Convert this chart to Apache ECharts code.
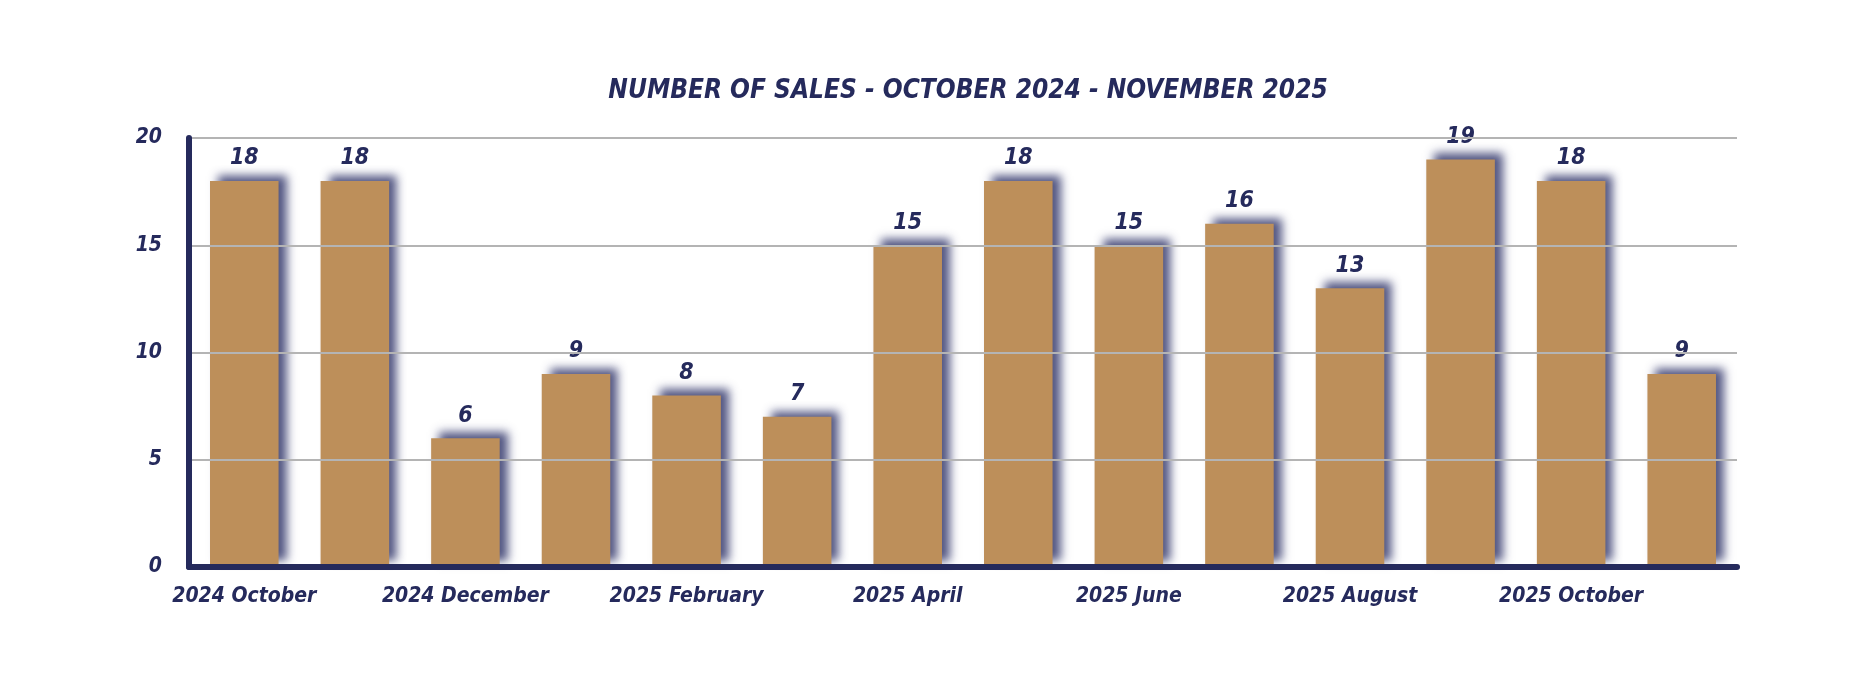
<!DOCTYPE html>
<html>
<head>
<meta charset="utf-8">
<script src="https://cdn.jsdelivr.net/npm/echarts@6/dist/echarts.min.js"></script>
<style>
html,body{margin:0;padding:0;background:#fff;}
#chart{width:1854px;height:690px;}
</style>
</head>
<body>
<div id="chart"></div>
<script>
const titleText = 'NUMBER OF SALES - OCTOBER 2024 - NOVEMBER 2025';
const categories = ['2024 October','2024 November','2024 December','2025 January','2025 February','2025 March','2025 April','2025 May','2025 June','2025 July','2025 August','2025 September','2025 October','2025 November'];
const sales = [18,18,6,9,8,7,15,18,15,16,13,19,18,9];
const yTicks = [0,5,10,15,20];

const navy = '#252a5c';
const font = '"DejaVu Sans Condensed","Liberation Sans Narrow","DejaVu Sans",sans-serif';

const chart = echarts.init(document.getElementById('chart'));
chart.setOption({
  animation:false,
  backgroundColor:'#ffffff',
  title:{
    text:titleText,
    left:963, top:73, textAlign:'center',
    textStyle:{color:navy, fontFamily:font, fontStyle:'italic', fontWeight:'bold', fontSize:26}
  },
  grid:{left:189, right:117, top:138, bottom:123, containLabel:false},
  xAxis:{
    type:'category',
    data:categories,
    z:5,
    axisLine:{show:true, lineStyle:{color:navy, width:6}},
    axisTick:{show:false},
    axisLabel:{
      interval:1, margin:19,
      color:navy, fontFamily:font, fontStyle:'italic', fontWeight:'bold', fontSize:21
    }
  },
  yAxis:{
    type:'value', min:yTicks[0], max:yTicks[yTicks.length-1], interval:5,
    z:5,
    axisLine:{show:true, lineStyle:{color:navy, width:6}},
    axisTick:{show:false},
    splitLine:{show:true, lineStyle:{color:'#b4b4b4', width:2}},
    axisLabel:{
      margin:27,
      color:navy, fontFamily:font, fontStyle:'italic', fontWeight:'bold', fontSize:21
    }
  },
  series:[{
    type:'bar',
    data:sales,
    barWidth:'62%',
    itemStyle:{
      color:'#bd8f5a',
      shadowColor:'rgba(40,45,100,0.8)',
      shadowBlur:9,
      shadowOffsetX:8,
      shadowOffsetY:-6
    },
    label:{
      show:true, position:'top', distance:11,
      color:navy, fontFamily:font, fontStyle:'italic', fontWeight:'bold', fontSize:23
    }
  }]
});
</script>
</body>
</html>
